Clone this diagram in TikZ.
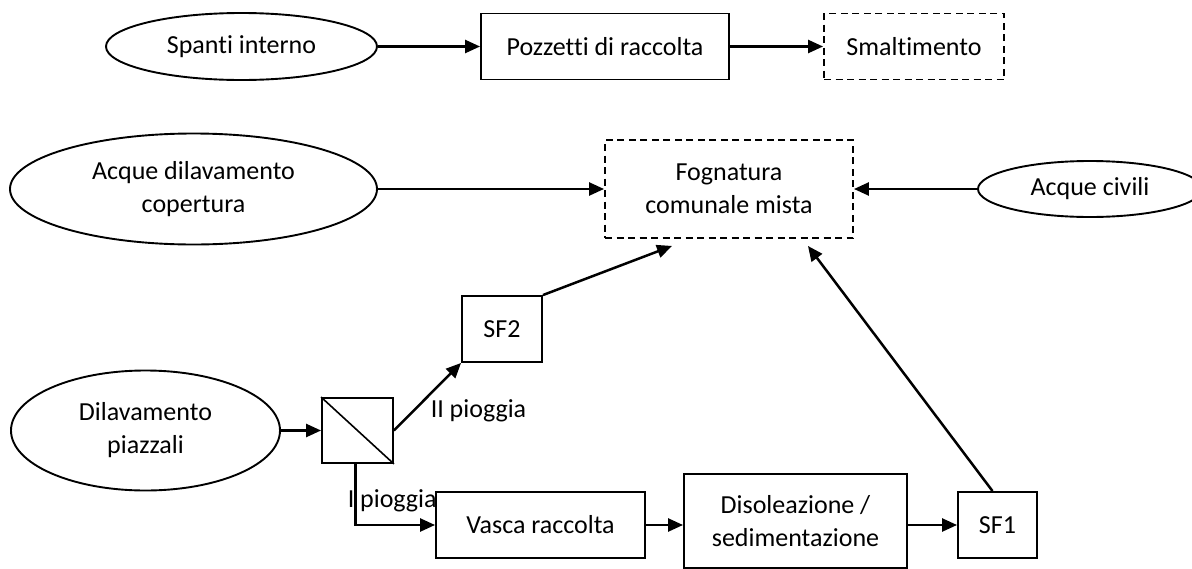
\documentclass[tikz,border=0pt]{standalone}
\usepackage{fontspec}
\setmainfont{Carlito}[Ligatures={NoCommon,NoRare,NoContextual}]
\usepackage{tikz}
\usetikzlibrary{positioning}
\usetikzlibrary{shapes.geometric}
\usetikzlibrary{arrows.meta}

\begin{document}
\begin{tikzpicture}[x=1pt,y=-1pt,
  every node/.style={font=\fontsize{26}{33}\selectfont},
  oval/.style={draw,ellipse,line width=1.9pt,inner sep=0pt,align=center},
  box/.style={draw,rectangle,line width=1.9pt,inner sep=0pt,align=center},
  dbox/.style={box,dash pattern=on 7pt off 4.5pt},
  arr/.style={line width=2.5pt,-{Triangle[length=15pt,width=13pt]}},
  lbl/.style={inner sep=2pt}]
\useasboundingbox (0,0) rectangle (1192,568);

\node[oval, minimum width=271, minimum height=67] (spanti) at (241.5,46.5) {Spanti interno};
\node[box, minimum width=248, minimum height=66] (pozzetti) at (605,46.5) {Pozzetti di raccolta};
\node[dbox, minimum width=180, minimum height=66] (smalt) at (914,46.5) {Smaltimento};

\node[oval, minimum width=367, minimum height=111] (copertura) at (193.5,189) {Acque dilavamento\\copertura};
\node[dbox, minimum width=248, minimum height=98] (fogna) at (729,189) {Fognatura\\comunale mista};
\node[oval, minimum width=224, minimum height=56] (civili) at (1090,189) {Acque civili};

\node[oval, minimum width=269, minimum height=120] (piazzali) at (145.5,430.5) {Dilavamento\\piazzali};
\node[box, minimum width=71, minimum height=65] (split) at (357.5,430.5) {};
\draw[line width=1.6pt] (split.north west) -- (split.south east);
\node[box, minimum width=80, minimum height=66] (sf2) at (502,329) {SF2};
\node[box, minimum width=209, minimum height=66] (vasca) at (540.5,525) {Vasca raccolta};
\node[box, minimum width=223, minimum height=94] (diso) at (795.5,521) {Disoleazione /\\sedimentazione};
\node[box, minimum width=79, minimum height=66] (sf1) at (997.5,525) {SF1};

\draw[arr] (spanti.east) -- (pozzetti.west);
\draw[arr] (pozzetti.east) -- (smalt.west);
\draw[arr] (copertura.east) -- (fogna.west);
\draw[arr] (civili.west) -- (fogna.east);
\draw[arr] (piazzali.east) -- (split.west);
\draw[arr] (split.east) -- (sf2.south west) node [lbl, pos=0.5, below right] (secpioggia) {II pioggia};
\draw[arr] ([xshift=-2pt]split.south) |- (vasca.west) node [lbl, pos=0.3, right, xshift=-11pt] (primpioggia) {I pioggia};
\draw[arr] (sf2.north east) -- ([xshift=-57pt,yshift=-7pt]fogna.south);
\draw[arr] (vasca.east) -- (vasca.east -| diso.west);
\draw[arr] (diso.east |- sf1.west) -- (sf1.west);
\draw[arr] ([xshift=-5pt]sf1.north) -- ([xshift=-46pt,yshift=-7pt]fogna.south east);
\end{tikzpicture}
\end{document}
